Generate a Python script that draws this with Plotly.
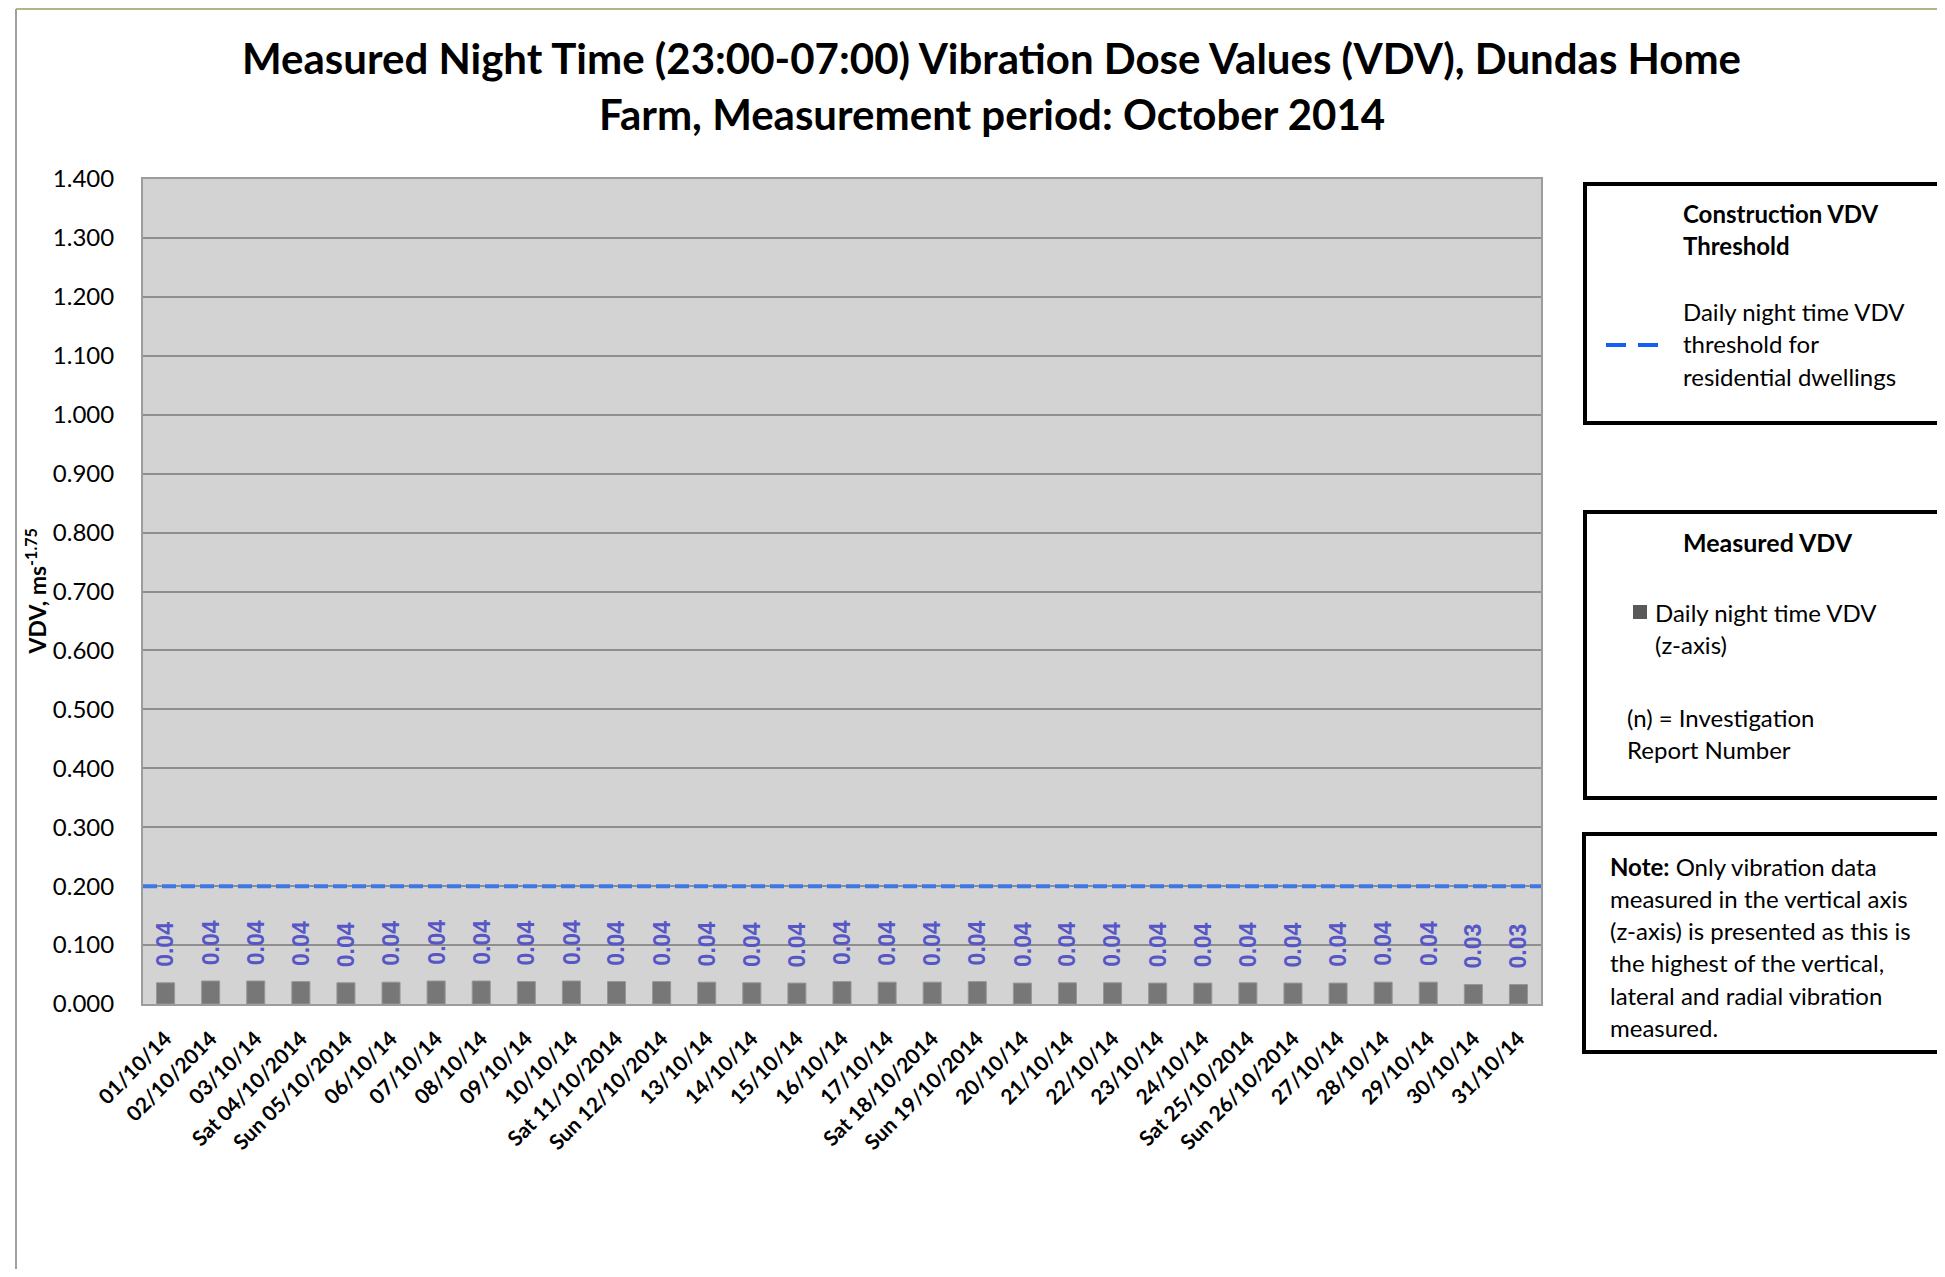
'''
    Night time VDV bar chart for Dundas Home Farm, October 2014.
'''
import plotly.graph_objects as go

# Category labels (x axis)
DATE_LABELS = [
    "01/10/14", "02/10/2014", "03/10/14", "Sat 04/10/2014", "Sun 05/10/2014",
    "06/10/14", "07/10/14", "08/10/14", "09/10/14", "10/10/14",
    "Sat 11/10/2014", "Sun 12/10/2014", "13/10/14", "14/10/14", "15/10/14",
    "16/10/14", "17/10/14", "Sat 18/10/2014", "Sun 19/10/2014", "20/10/14",
    "21/10/14", "22/10/14", "23/10/14", "24/10/14", "Sat 25/10/2014",
    "Sun 26/10/2014", "27/10/14", "28/10/14", "29/10/14", "30/10/14", "31/10/14",
]

# Measured daily night time VDV, z-axis (ms^-1.75)
VDV_Z = [
    0.036, 0.039, 0.039, 0.038, 0.036, 0.037, 0.039, 0.039, 0.038, 0.039,
    0.038, 0.038, 0.037, 0.036, 0.0355, 0.038, 0.037, 0.037, 0.038, 0.0355,
    0.036, 0.036, 0.0355, 0.0355, 0.036, 0.0355, 0.0355, 0.037, 0.037, 0.033,
    0.033,
]

# Construction VDV threshold for residential dwellings
THRESHOLD = 0.2

Y_TICKS = [0.0, 0.1, 0.2, 0.3, 0.4, 0.5, 0.6, 0.7, 0.8, 0.9, 1.0, 1.1, 1.2, 1.3, 1.4]

FONT = "Lato"
# page body has an 8px margin, so the figure is drawn 8px in from the corner
OFF = 8
W, H = 1945 - 2 * OFF, 1277 - 2 * OFF
# plot area in page pixels
PLOT_L, PLOT_R, PLOT_T, PLOT_B = 143, 1541, 179, 1004


def px_x(x):
    '''Page pixel column -> paper x.'''
    return (x - PLOT_L) / (PLOT_R - PLOT_L)


def px_y(y):
    '''Page pixel row -> paper y.'''
    return (PLOT_B - y) / (PLOT_B - PLOT_T)


def add_text(fig, x, y, text, size=24, bold=False, xanchor="left", color="black"):
    '''Places a paper-referenced annotation at a page pixel position.'''
    if bold:
        text = f"<b>{text}</b>"
    fig.add_annotation(
        x=px_x(x), y=px_y(y), xref="paper", yref="paper",
        text=text, showarrow=False, xanchor=xanchor, yanchor="middle",
        align=xanchor if xanchor != "center" else "center",
        font=dict(family=FONT, size=size, color=color),
    )


def add_box(fig, x0, y0, x1, y1):
    '''Black framed legend box.'''
    fig.add_shape(
        type="rect", xref="paper", yref="paper",
        x0=px_x(x0), x1=px_x(x1), y0=px_y(y1), y1=px_y(y0),
        line=dict(color="black", width=4), fillcolor="white", layer="above",
    )


fig = go.Figure()

# Measured VDV bars
fig.add_trace(go.Bar(
    x=DATE_LABELS, y=VDV_Z,
    marker=dict(color="#777777", line=dict(color="#969696", width=1)),
    width=0.4, showlegend=False,
))

# Data labels above the bars
for lab, v in zip(DATE_LABELS, VDV_Z):
    fig.add_annotation(
        x=lab, y=v, xref="x", yref="y", text=f"<b>{v:.2f}</b>",
        textangle=-90, showarrow=False, yanchor="bottom", xanchor="center",
        yshift=14,
        font=dict(family="Liberation Sans", size=23, color="#5656c6"),
    )

# Threshold line
fig.add_hline(y=THRESHOLD, line=dict(color="#3f78e0", width=4, dash="14px,5px"),
              layer="above")

# Title (two lines)
add_text(fig, 992, 58, "Measured Night Time (23:00-07:00) Vibration Dose Values (VDV), Dundas Home",
         size=42, bold=True, xanchor="center")
add_text(fig, 992, 114, "Farm, Measurement period: October 2014",
         size=42, bold=True, xanchor="center")

# Y axis title
fig.add_annotation(
    x=px_x(36), y=0.5, xref="paper", yref="paper",
    text="<b>VDV, ms<sup>-1.75</sup></b>", textangle=-90, showarrow=False,
    xanchor="center", yanchor="middle",
    font=dict(family=FONT, size=23, color="black"),
)

# Legend box 1 : threshold
add_box(fig, 1585, 184, 1990, 423)
add_text(fig, 1681, 213, "Construction VDV", size=24, bold=True)
add_text(fig, 1681, 246, "Threshold", size=24, bold=True)
for i, line in enumerate(["Daily night time VDV", "threshold for", "residential dwellings"]):
    add_text(fig, 1681, 311 + i * 32.5, line, size=24)
fig.add_shape(type="line", xref="paper", yref="paper",
              x0=px_x(1606), x1=px_x(1660), y0=px_y(345), y1=px_y(345),
              line=dict(color="#1560f0", width=4, dash="20px,12px"))

# Legend box 2 : measured
add_box(fig, 1585, 512, 1990, 798)
add_text(fig, 1768, 542, "Measured VDV", size=25, bold=True, xanchor="center")
fig.add_shape(type="rect", xref="paper", yref="paper",
              x0=px_x(1633), x1=px_x(1647), y0=px_y(619), y1=px_y(605),
              line=dict(width=0), fillcolor="#595959")
add_text(fig, 1653, 612, "Daily night time VDV", size=24)
add_text(fig, 1653, 644, "(z-axis)", size=24)
add_text(fig, 1625, 717, "(n) = Investigation", size=24)
add_text(fig, 1625, 749, "Report Number", size=24)

# Legend box 3 : note
add_box(fig, 1584, 834, 1990, 1052)
note_lines = [
    "<b>Note:</b> Only vibration data",
    "measured in the vertical axis",
    "(z-axis) is presented as this is",
    "the highest of the vertical,",
    "lateral and radial vibration",
    "measured.",
]
for i, line in enumerate(note_lines):
    add_text(fig, 1608, 866 + i * 32.3, line, size=24)

# Chart area frame
fig.add_shape(type="line", xref="paper", yref="paper",
              x0=px_x(16), x1=px_x(1990), y0=px_y(9), y1=px_y(9),
              line=dict(color="#b4b48a", width=2))
fig.add_shape(type="line", xref="paper", yref="paper",
              x0=px_x(16), x1=px_x(16), y0=px_y(9), y1=px_y(1300),
              line=dict(color="#a0a0a0", width=2))

fig.update_layout(
    width=W, height=H,
    margin=dict(l=PLOT_L - OFF, r=W - (PLOT_R - OFF),
                t=PLOT_T - OFF, b=H - (PLOT_B - OFF)),
    paper_bgcolor="white", plot_bgcolor="#d3d3d3",
    showlegend=False,
    font=dict(family=FONT, color="black"),
    xaxis=dict(
        type="category", tickangle=-45, showgrid=False,
        showline=True, linecolor="#9c9c9c", linewidth=2, mirror=True,
        tickfont=dict(family=FONT, size=21, color="black", weight="bold"),
        ticks="", ticklabelstandoff=12,
    ),
    yaxis=dict(
        range=[0, 1.4], tickvals=Y_TICKS, tickformat=".3f",
        showgrid=True, gridcolor="#8e8e8e", gridwidth=1.5,
        showline=True, linecolor="#9c9c9c", linewidth=2, mirror=True,
        zeroline=False, ticks="", ticklabelstandoff=22,
        tickfont=dict(family=FONT, size=24, color="black"),
    ),
)

fig.write_html("out.html")
